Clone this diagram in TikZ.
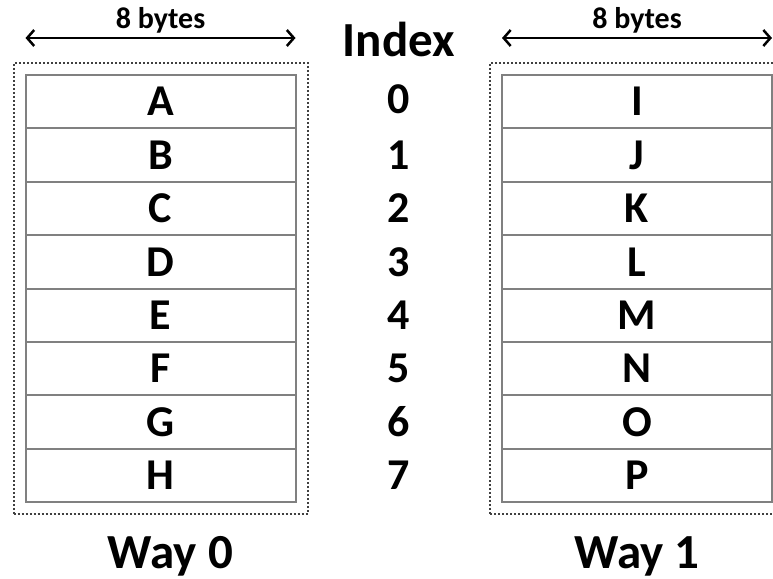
\documentclass[tikz,border=0pt]{standalone}
\usepackage{fontspec}
\setmainfont{Carlito}
\usetikzlibrary{fit}
\usetikzlibrary{calc}
\usetikzlibrary{arrows.meta}
\usetikzlibrary{positioning}

\begin{document}
\begin{tikzpicture}[
        every node/.append style={inner sep=0pt, outer sep=0pt},
        cell/.style={draw=gray, line width=2pt, minimum width=270pt, minimum height=53.4pt, text height=28.3pt, text depth=0pt, font=\fontsize{44}{48}\selectfont\bfseries},
        num/.style={text height=28.3pt, text depth=0pt, font=\fontsize{44}{48}\selectfont\bfseries},
        title/.style={font=\fontsize{49}{54}\selectfont\bfseries},
        waybox/.style={draw=black!75, line width=2pt, dash pattern=on 2pt off 2pt, inner sep=12pt},
        width/.style={line width=2.5pt, {Straight Barb[length=7pt,width=16pt]}-{Straight Barb[length=7pt,width=16pt]}},
        bytes/.style={above=5pt, font=\fontsize{30}{33}\selectfont\bfseries}
    ]
        \useasboundingbox (0,0) rectangle (773pt,-578pt);

        % way 0
        \node (a0) [cell] at (160.5pt,-101.7pt) {A};
        \node (a1) [cell, below=0pt of a0] {B};
        \node (a2) [cell, below=0pt of a1] {C};
        \node (a3) [cell, below=0pt of a2] {D};
        \node (a4) [cell, below=0pt of a3] {E};
        \node (a5) [cell, below=0pt of a4] {F};
        \node (a6) [cell, below=0pt of a5] {G};
        \node (a7) [cell, below=0pt of a6] {H};

        % way 1
        \node (b0) [cell] at (637pt,-101.7pt) {I};
        \node (b1) [cell, below=0pt of b0] {J};
        \node (b2) [cell, below=0pt of b1] {K};
        \node (b3) [cell, below=0pt of b2] {L};
        \node (b4) [cell, below=0pt of b3] {M};
        \node (b5) [cell, below=0pt of b4] {N};
        \node (b6) [cell, below=0pt of b5] {O};
        \node (b7) [cell, below=0pt of b6] {P};

        % index
        \node (n0) [num] at ($(a0)!.5!(b0)+(0,2pt)$) {0};
        \node (n1) [num] at ($(a1)!.5!(b1)$) {1};
        \node (n2) [num] at ($(a2)!.5!(b2)$) {2};
        \node (n3) [num] at ($(a3)!.5!(b3)$) {3};
        \node (n4) [num] at ($(a4)!.5!(b4)$) {4};
        \node (n5) [num] at ($(a5)!.5!(b5)$) {5};
        \node (n6) [num] at ($(a6)!.5!(b6)$) {6};
        \node (n7) [num] at ($(a7)!.5!(b7)$) {7};
        \node (idx) [title] at ($(n0)+(0,60pt)$) {Index};

        \node (w0) [waybox, fit=(a0)(a7)] {};
        \node (w1) [waybox, fit=(b0)(b7)] {};

        \node (way0) [title, below=22pt of w0, xshift=10pt] {Way 0};
        \node (way1) [title, below=22pt of w1] {Way 1};

        \coordinate (la) at ([yshift=37pt]a0.north west);
        \coordinate (lb) at ([yshift=37pt]a0.north east);
        \coordinate (ra) at ([yshift=37pt]b0.north west);
        \coordinate (rb) at ([yshift=37pt]b0.north east);
        \draw [width] (la) -- node[bytes] {8 bytes} (lb);
        \draw [width] (ra) -- node[bytes] {8 bytes} (rb);
    \end{tikzpicture}
\end{document}
